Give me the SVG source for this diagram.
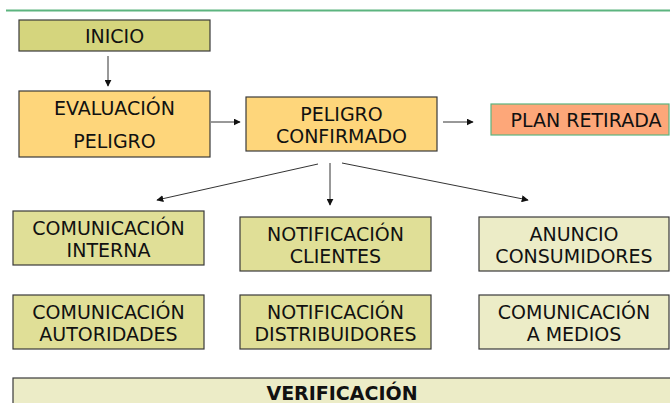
<svg xmlns="http://www.w3.org/2000/svg" width="670" height="403" viewBox="0 0 670 403">
<defs>
<style>
text{font-family:"DejaVu Sans",Verdana,sans-serif;font-size:19px;fill:#111;text-anchor:middle}
.b{stroke:#3a3a3a;stroke-width:1.2}
.olive{fill:#d5d57d}
.orange{fill:#fed67b}
.y1{fill:#e0df97}
.y2{fill:#ececc7}
.c{stroke:#333;stroke-width:1;fill:none;marker-end:url(#ah)}
</style>
<marker id="ah" viewBox="0 0 10 10" refX="9" refY="5" markerWidth="7" markerHeight="7" orient="auto" markerUnits="userSpaceOnUse"><path d="M0,0 L10,5 L0,10 z" fill="#111"/></marker>
</defs>
<rect width="670" height="403" fill="#fff"/>
<line x1="6" y1="10.5" x2="670" y2="10.5" stroke="#5cb47f" stroke-width="2"/>
<g id="inicio"><rect class="b olive" x="19" y="20" width="191" height="31"/><text x="114.5" y="42.5">INICIO</text></g>
<g id="evaluacion"><rect class="b orange" x="19" y="91" width="191" height="66"/><text x="114.5" y="114.5">EVALUACIÓN</text><text x="114.5" y="147.5">PELIGRO</text></g>
<g id="peligro"><rect class="b orange" x="246" y="97" width="191" height="54"/><text x="341.5" y="120.5">PELIGRO</text><text x="341.5" y="142.5">CONFIRMADO</text></g>
<g id="plan"><rect x="491" y="104" width="178" height="31" fill="#fda779" stroke="#5cb47f" stroke-width="1.2"/><text x="586" y="126.5">PLAN RETIRADA</text></g>
<g id="com-interna"><rect class="b y1" x="13" y="211" width="191" height="54"/><text x="108.5" y="234.5">COMUNICACIÓN</text><text x="108.5" y="256.5">INTERNA</text></g>
<g id="not-clientes"><rect class="b y1" x="240" y="217" width="191" height="54"/><text x="335.5" y="240.5">NOTIFICACIÓN</text><text x="335.5" y="262.5">CLIENTES</text></g>
<g id="anuncio"><rect class="b y2" x="479" y="217" width="190" height="54"/><text x="574" y="240.5">ANUNCIO</text><text x="574" y="262.5">CONSUMIDORES</text></g>
<g id="com-autoridades"><rect class="b y1" x="13" y="295" width="191" height="54"/><text x="108.5" y="318.5">COMUNICACIÓN</text><text x="108.5" y="340.5">AUTORIDADES</text></g>
<g id="not-distribuidores"><rect class="b y1" x="240" y="295" width="191" height="54"/><text x="335.5" y="318.5">NOTIFICACIÓN</text><text x="335.5" y="340.5">DISTRIBUIDORES</text></g>
<g id="com-medios"><rect class="b y2" x="479" y="295" width="190" height="54"/><text x="574" y="318.5">COMUNICACIÓN</text><text x="574" y="340.5">A MEDIOS</text></g>
<g id="verificacion"><rect class="b y2" x="13" y="378" width="662" height="40"/><text x="342" y="400" font-weight="bold" font-size="19">VERIFICACIÓN</text></g>
<g id="connectors">
<line class="c" x1="108" y1="56" x2="108" y2="86"/>
<line class="c" x1="211" y1="122" x2="240" y2="122"/>
<line class="c" x1="443" y1="122" x2="473" y2="122"/>
<line class="c" x1="318" y1="164" x2="157" y2="200"/>
<line class="c" x1="330" y1="163" x2="330" y2="205"/>
<line class="c" x1="342" y1="163" x2="528" y2="200"/>
</g>
</svg>
